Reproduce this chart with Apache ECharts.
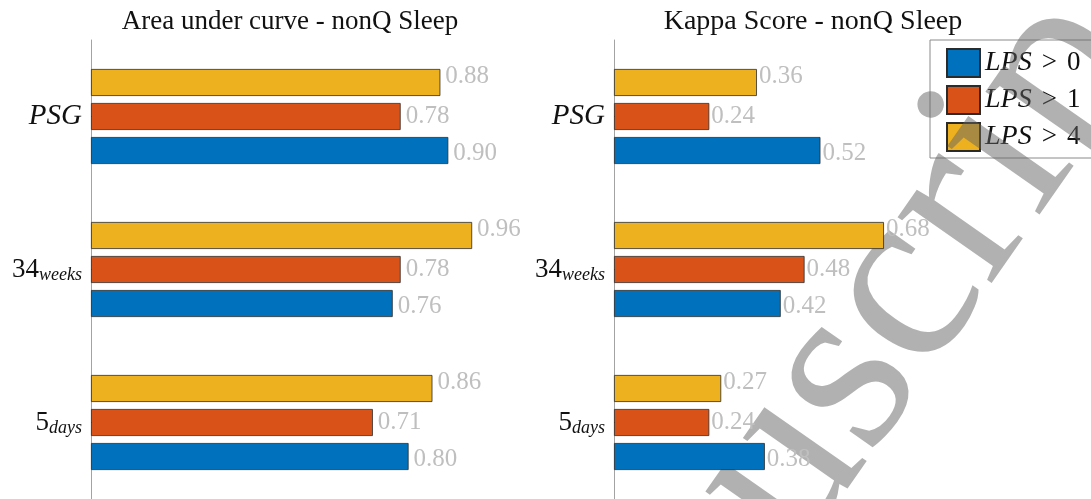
<!DOCTYPE html>
<html>
<head>
<meta charset="utf-8">
<script src="https://cdn.jsdelivr.net/npm/echarts@6/dist/echarts.min.js"></script>
<style>
  html, body { margin: 0; padding: 0; background: #ffffff; }
  #chart { width: 1091px; height: 499px; }
</style>
</head>
<body>
<div id="chart"></div>
<script>
// Categories, top to bottom
const categories = ['PSG', '34weeks', '5days'];
const seriesNames = ['LPS > 0', 'LPS > 1', 'LPS > 4'];

// Area under curve
const aucLps0 = [0.90, 0.76, 0.80];
const aucLps1 = [0.78, 0.78, 0.71];
const aucLps4 = [0.88, 0.96, 0.86];

// Kappa score
const kappaLps0 = [0.52, 0.42, 0.38];
const kappaLps1 = [0.24, 0.48, 0.24];
const kappaLps4 = [0.36, 0.68, 0.27];

const panelTitles = ['Area under curve - nonQ Sleep', 'Kappa Score - nonQ Sleep'];
const watermarkText = 'Accepted Manuscript';

const colors = ['#0072BD', '#D95319', '#EDB120'];
const SERIF = '"Liberation Serif", "Times New Roman", serif';

const chart = echarts.init(document.getElementById('chart'), null, { renderer: 'canvas' });

// per-series label shift (top bar label sits a little higher, bottom one a little lower)
const labelShift = [3, 0, -6];

function panelSeries(gridIndex, valueSets, labelDistance) {
  // drawn top-to-bottom: LPS > 4, LPS > 1, LPS > 0
  const order = [2, 1, 0];
  return order.map(k => ({
    name: seriesNames[k],
    type: 'bar',
    xAxisIndex: gridIndex,
    yAxisIndex: gridIndex,
    data: valueSets[k],
    barWidth: 27,
    barGap: '26%',
    z: 5,
    itemStyle: { color: colors[k], borderColor: '#2b2b2b', borderWidth: 0.8 },
    label: {
      show: true,
      position: 'right',
      distance: labelDistance,
      offset: [0, labelShift[k]],
      formatter: p => p.value.toFixed(2),
      color: '#bfbfbf',
      fontFamily: SERIF,
      fontSize: 25
    },
    emphasis: { disabled: true },
    animation: false
  }));
}

function catLabel(v) {
  const m = v.match(/^(\d+)(.*)$/);
  if (m) return '{n|' + m[1] + '}{s|' + m[2] + '}';
  return '{i|' + v + '}';
}

const yAxisCommon = {
  type: 'category',
  data: categories,
  inverse: true,
  axisLine: { show: true, lineStyle: { color: '#a3a3a3', width: 1 } },
  axisTick: { show: true, inside: true, alignWithLabel: true, length: 5, lineStyle: { color: '#333' } },
  splitLine: { show: false },
  axisLabel: {
    margin: 9,
    formatter: catLabel,
    color: '#111',
    rich: {
      i: { fontFamily: SERIF, fontStyle: 'italic', fontSize: 29, color: '#111' },
      n: { fontFamily: SERIF, fontSize: 27, color: '#111' },
      s: { fontFamily: SERIF, fontStyle: 'italic', fontSize: 18, color: '#111', padding: [12, 0, 0, 0] }
    }
  }
};

const xAxisCommon = { type: 'value', min: 0, max: 1, show: false };

const titleStyle = { fontFamily: SERIF, fontSize: 27, fontWeight: 'normal', color: '#111' };

const option = {
  backgroundColor: '#ffffff',
  animation: false,
  title: [
    { text: panelTitles[0], left: 285, textAlign: 'center', top: 3, textStyle: titleStyle },
    { text: panelTitles[1], left: 808, textAlign: 'center', top: 3,
      textStyle: Object.assign({}, titleStyle, { fontSize: 28 }) }
  ],
  grid: [
    { left: 91, top: 40, width: 397, bottom: 0, containLabel: false },
    { left: 614, top: 40, width: 397, bottom: 0, containLabel: false }
  ],
  xAxis: [
    Object.assign({ gridIndex: 0 }, xAxisCommon),
    Object.assign({ gridIndex: 1 }, xAxisCommon)
  ],
  yAxis: [
    Object.assign({ gridIndex: 0 }, yAxisCommon),
    Object.assign({ gridIndex: 1 }, yAxisCommon)
  ],
  legend: {
    data: seriesNames,
    orient: 'vertical',
    left: 930,
    top: 40,
    z: 4,
    padding: [8, 200, 6, 16],
    itemWidth: 33,
    itemHeight: 28,
    itemGap: 7,
    icon: 'rect',
    borderColor: '#8a8a8a',
    borderWidth: 1,
    backgroundColor: '#ffffff',
    selectedMode: false,
    formatter: name => {
      const parts = name.split(' ');
      return '{i|' + parts[0] + '}{g|' + parts[1] + '}{d|' + parts[2] + '}';
    },
    textStyle: {
      color: '#111',
      rich: {
        i: { fontFamily: SERIF, fontStyle: 'italic', fontSize: 28, color: '#111' },
        g: { fontFamily: SERIF, fontSize: 27, color: '#111', padding: [0, 10, 0, 10] },
        d: { fontFamily: SERIF, fontSize: 27, color: '#111' }
      }
    }
  },
  graphic: [
    {
      type: 'text',
      x: 1134,
      y: -35,
      rotation: 55 * Math.PI / 180,
      z: 4.5,
      silent: true,
      style: {
        text: watermarkText,
        font: '250px ' + SERIF,
        fill: 'rgba(100,100,100,0.5)',
        textAlign: 'right',
        textVerticalAlign: 'middle'
      }
    }
  ],
  series: [].concat(
    panelSeries(0, [aucLps0, aucLps1, aucLps4], 5),
    panelSeries(1, [kappaLps0, kappaLps1, kappaLps4], 2)
  )
};

chart.setOption(option);
</script>
</body>
</html>
